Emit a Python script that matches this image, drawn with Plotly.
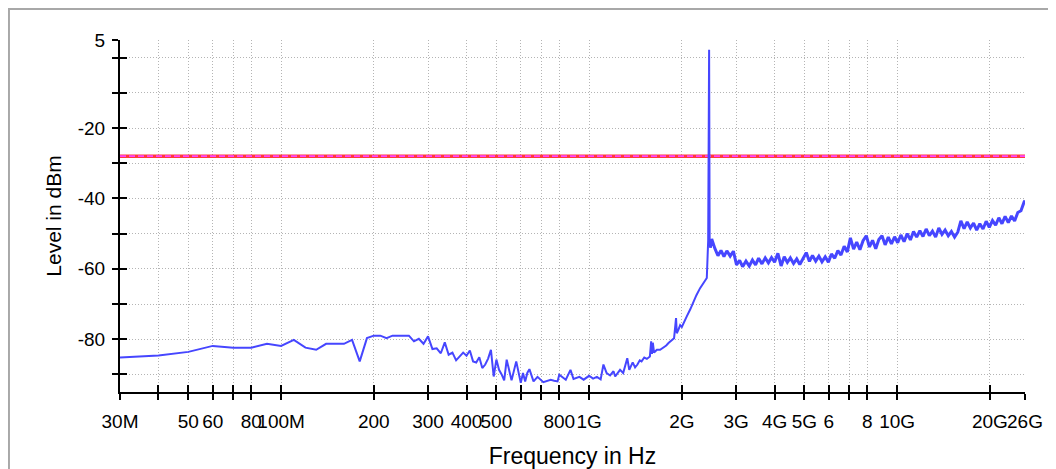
import plotly.graph_objects as go

# spectrum trace, frequency in MHz, level in dBm
freq_low = [30, 40, 50, 60, 70, 80, 90, 100, 110, 120, 130, 140, 150, 160, 170, 180, 190, 200,
            210, 220, 230, 240, 250, 260, 270, 280, 290, 300, 310, 320, 330, 340, 350, 360,
            370, 380, 390, 400, 410, 420, 430, 440, 450, 460, 470, 480, 490, 500, 510, 520,
            530, 540, 560, 580, 600, 610, 620, 630, 640, 660, 680, 710, 750, 770, 790, 800,
            840, 870, 890, 930, 960]
level_low = [-85.2, -84.6, -83.6, -81.9, -82.4, -82.4, -81.3, -81.9, -80.2, -82.4, -83.0, -81.3,
             -81.3, -81.3, -80.2, -86.3, -79.7, -79.0, -79.0, -79.7, -79.0, -79.0, -79.0, -79.0,
             -80.6, -79.9, -81.3, -79.2, -82.8, -82.6, -84.0, -80.9, -84.4, -83.8, -86.0, -84.9,
             -83.8, -84.7, -83.2, -86.3, -86.6, -85.1, -88.2, -87.2, -85.5, -83.0, -90.6, -85.8,
             -88.7, -90.0, -91.7, -85.8, -91.7, -86.3, -92.4, -89.6, -92.0, -89.6, -88.5, -92.0,
             -90.7, -92.2, -91.5, -91.8, -92.0, -90.1, -91.5, -88.7, -91.3, -90.7, -91.5]

freq_mid = [1000, 1030, 1060, 1090, 1113, 1140, 1170, 1200, 1215, 1240, 1260, 1290, 1330, 1350,
            1385, 1410, 1435, 1460, 1480, 1510, 1540, 1575, 1590, 1600, 1610, 1625, 1660, 1700,
            1740, 1780, 1810, 1850, 1887, 1915, 1926, 1950, 1975, 2000, 2040, 2075, 2130, 2180,
            2230, 2292, 2340, 2380, 2410, 2435, 2445, 2452, 2462, 2475]
level_mid = [-90.4, -91.2, -90.7, -91.4, -87.2, -89.6, -90.3, -89.1, -90.6, -89.4, -88.7, -89.6,
             -85.4, -88.7, -86.6, -88.0, -87.2, -86.0, -86.3, -85.2, -85.6, -84.9, -80.6, -84.2,
             -81.0, -83.8, -83.0, -83.0, -82.5, -81.8, -81.1, -80.5, -79.7, -74.0, -78.3, -77.3,
             -76.0, -76.5, -74.6, -73.5, -71.5, -69.3, -67.5, -65.5, -64.2, -63.1, -62.6, -52.0,
             2.2, 2.2, -52.5, -54.0]

freq_high = [2500, 2560, 2620, 2680, 2740, 2800, 2870, 2940, 3010, 3080, 3150, 3230, 3310, 3390,
             3470, 3550, 3640, 3730, 3820, 3910, 4000, 4100, 4200, 4300, 4400, 4500, 4610, 4720,
             4830, 4950, 5070, 5190, 5310, 5440, 5570, 5700, 5840, 5980, 6120, 6270, 6420, 6570,
             6730, 6890, 7050, 7220, 7390, 7570, 7750, 7940, 8130, 8320, 8520, 8720, 8930, 9140,
             9360, 9580, 9810, 10040, 10280, 10530, 10780, 11040, 11300, 11570, 11850, 12130,
             12420, 12720, 13020, 13330, 13650, 13980, 14310, 14650, 15000, 15360, 15730, 16100,
             16490, 16880, 17280, 17700, 18120, 18550, 19000, 19450, 19910, 20390, 20880, 21380,
             21890, 22410, 22950, 23500, 24060, 24640, 25230, 25830, 26000]
level_high = [-51.5, -54.2, -56.3, -54.8, -56.5, -54.9, -56.4, -55.0, -58.9, -57.6, -59.4, -57.8,
              -59.2, -57.5, -58.9, -57.0, -58.6, -56.9, -58.3, -56.8, -58.1, -55.6, -59.2, -56.6,
              -58.2, -56.9, -58.5, -57.2, -58.8, -57.1, -55.4, -57.9, -56.2, -57.8, -56.4, -58.0,
              -56.6, -58.1, -55.8, -57.0, -54.8, -56.1, -53.6, -55.2, -51.2, -54.4, -52.4, -54.6,
              -52.0, -50.6, -53.8, -51.9, -54.3, -51.7, -50.6, -53.2, -51.0, -52.9, -50.9, -52.6,
              -50.4, -52.3, -50.0, -51.8, -49.4, -51.0, -49.2, -50.8, -48.7, -50.6, -49.3, -51.0,
              -48.4, -50.2, -49.0, -50.6, -49.4, -51.0, -49.6, -46.4, -48.6, -46.7, -48.4, -47.0,
              -49.0, -47.2, -48.7, -46.5, -48.2, -46.3, -47.6, -45.5, -47.2, -45.1, -46.9, -45.0,
              -46.4, -44.0, -43.5, -41.0, -40.6]

limit_level = -28

x_tickvals = [30, 40, 50, 60, 70, 80, 100, 200, 300, 400, 500, 600, 700, 800, 1000, 2000,
              3000, 4000, 5000, 6000, 7000, 8000, 10000, 20000, 26000]
x_ticktext = ["30M", "", "50", "60", "", "80", "100M", "200", "300", "400", "500", "", "",
              "800", "1G", "2G", "3G", "4G", "5G", "6", "", "8", "10G", "20G", "26G"]
y_tickvals = [5, 0, -10, -20, -30, -40, -50, -60, -70, -80, -90]
y_ticktext = ["5", "", "", "-20", "", "-40", "", "-60", "", "-80", ""]

freq = freq_low + freq_mid
level = level_low + level_mid

x_range = [1.4771, 4.415]  # log10(30), log10(26000)
y_range = [-95, 5]

fig = go.Figure()

# limit line: red with magenta dashes
fig.add_trace(go.Scatter(x=[freq_low[0], freq_high[-1]], y=[limit_level, limit_level],
                         mode="lines", line=dict(color="#ff3b3b", width=3.5), hoverinfo="skip"))
fig.add_trace(go.Scatter(x=[freq_low[0], freq_high[-1]], y=[limit_level, limit_level],
                         mode="lines", line=dict(color="#ff44ff", width=1.6, dash="6px,3px"),
                         hoverinfo="skip"))

# measured trace sits on the overlay axes so it is drawn on top
fig.add_trace(go.Scatter(x=freq, y=level, mode="lines", xaxis="x2", yaxis="y2",
                         line=dict(color="#4646ff", width=2)))
# the noisy upper band is drawn a bit heavier
fig.add_trace(go.Scatter(x=[freq_mid[-1]] + freq_high, y=[level_mid[-1]] + level_high,
                         mode="lines", xaxis="x2", yaxis="y2",
                         line=dict(color="#4646ff", width=3)))

tick_font = dict(family="Liberation Sans, Arial, sans-serif", size=19, color="black")

# the page adds an 8px body margin, so margins are trimmed to keep the plot box in place
fig.update_layout(
    width=1056, height=469,
    margin=dict(l=112, r=39, t=32, b=85),
    paper_bgcolor="white", plot_bgcolor="white",
    showlegend=False,
    font=dict(family="Liberation Sans, Arial, sans-serif", color="black"),
    xaxis=dict(type="log", range=x_range, tickmode="array", tickvals=x_tickvals,
               ticktext=x_ticktext, tickangle=0, tickfont=tick_font, automargin=False,
               ticks="outside", ticklen=6, tickwidth=2, tickcolor="black",
               ticklabelstandoff=5,
               showline=True, linecolor="black", linewidth=2,
               showgrid=True, gridcolor="#b4b4b4", gridwidth=1, griddash="1px,2px",
               zeroline=False,
               title=dict(text="Frequency in Hz", font=dict(size=23), standoff=17)),
    yaxis=dict(range=y_range, tickmode="array", tickvals=y_tickvals, ticktext=y_ticktext,
               tickfont=tick_font, ticks="outside", ticklen=6, tickwidth=2, tickcolor="black",
               ticklabelstandoff=3,
               showline=True, linecolor="black", linewidth=2, automargin=False,
               showgrid=True, gridcolor="#b4b4b4", gridwidth=1, griddash="1px,2px",
               zeroline=False,
               title=dict(text="Level in dBm", font=dict(size=21), standoff=10)),
    xaxis2=dict(type="log", range=x_range, overlaying="x", anchor="y", side="bottom",
                tickmode="array", tickvals=x_tickvals, showticklabels=False, automargin=False,
                ticks="inside", ticklen=7, tickwidth=2, tickcolor="black",
                showline=False, showgrid=False, zeroline=False),
    yaxis2=dict(range=y_range, overlaying="y", anchor="x", side="left", automargin=False,
                tickmode="array", tickvals=y_tickvals, showticklabels=False,
                ticks="inside", ticklen=7, tickwidth=2, tickcolor="black",
                showline=False, showgrid=False, zeroline=False),
)

# light grey frame around the whole chart
fig.add_shape(type="rect", xref="paper", yref="paper", x0=-0.1227, x1=1.0276,
              y0=-0.3, y1=1.088, line=dict(color="#a8a8a8", width=2), layer="below")

fig.write_html("out.html")
